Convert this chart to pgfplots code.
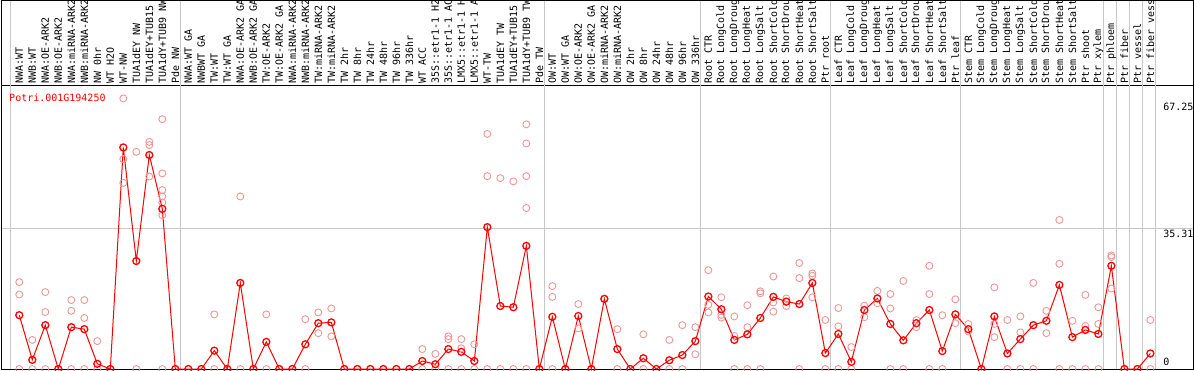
\documentclass[border=0pt]{standalone}
\usepackage{fontspec}
\setmonofont{DejaVu Sans Mono}
\usepackage{pgfplots}
\pgfplotsset{compat=1.18}
\definecolor{mainred}{RGB}{255,0,0}
\definecolor{reprep}{RGB}{238,150,150}
\definecolor{sepgray}{RGB}{200,200,200}

\pgfplotstableread{
x y
0 21.8
0 18.7
0 0
1 7.3
1 0
2 19.3
2 14.3
2 0
4 17.3
4 14.6
4 0
5 17.3
5 12.8
5 0
6 7.0
6 0
8 67.9
8 52.7
8 46.7
9 54.5
9 0
10 57.0
10 56.2
10 48.3
11 62.7
11 49.1
11 44.9
11 43.3
11 41.8
11 38.6
11 0
15 13.7
15 0
17 43.3
17 0
19 13.7
19 0
22 12.5
22 0
23 14.2
23 9.0
24 15.2
24 8.2
31 5.0
31 0
32 3.8
32 0
33 8.2
33 7.5
33 0
34 7.5
34 5.2
34 0
35 6.2
35 0
36 59.0
36 48.4
36 0
37 47.9
37 0
38 47.1
38 0
39 61.4
39 56.6
39 48.4
39 40.4
39 0
41 20.8
41 18.1
41 0
43 16.3
43 10.2
45 17.6
46 10.0
46 0
48 8.7
48 0
50 7.3
50 0
51 11.0
51 0
52 10.5
52 3.7
53 24.8
53 16.1
53 14.2
54 18.0
54 13.6
54 12.9
55 13.2
55 8.3
55 0
56 16.0
56 10.5
56 0
57 19.5
57 19.0
57 0
58 23.2
58 16.7
58 14.4
59 17.7
59 15.8
60 26.6
60 22.8
60 0
61 24.0
61 23.4
61 18.0
62 12.3
62 0
63 15.3
63 10.7
63 0
64 5.5
64 0
65 15.9
65 13.0
66 19.6
66 16.5
67 18.8
67 15.2
67 0
68 22.1
68 0
69 12.3
69 10.5
70 25.9
70 18.8
70 0
71 13.5
71 0
72 17.5
72 11.5
73 11.3
73 9.4
75 20.5
75 11.3
75 8.0
76 12.3
76 0
77 13.2
77 9.2
77 0
78 21.6
78 0
79 14.6
79 9.0
80 37.4
80 26.4
80 0
81 12.1
81 0
82 18.6
82 10.8
82 0
83 15.5
83 11.3
83 0
84 28.5
84 28.1
84 20.2
87 12.3
87 0
}\reptable

\pgfplotstableread{
x y
0 13.5
1 2.3
2 11.0
3 0
4 10.5
5 10.0
6 1.3
7 0
8 55.6
9 27.1
10 53.7
11 40.2
12 0
13 0
14 0
15 4.6
16 0
17 21.6
18 0
19 6.8
20 0
21 0
22 6.2
23 11.5
24 11.7
25 0
26 0
27 0
28 0
29 0
30 0
31 2.0
32 1.2
33 5.0
34 4.3
35 2.0
36 35.6
37 15.8
38 15.5
39 30.9
40 0
41 13.1
42 0
43 13.3
44 0
45 17.6
46 5.0
47 0
48 2.7
49 0
50 2.2
51 3.5
52 7.0
53 18.2
54 15.0
55 7.3
56 8.7
57 12.8
58 18.1
59 16.9
60 16.3
61 21.6
62 4.0
63 8.8
64 1.8
65 14.8
66 17.7
67 11.3
68 7.2
69 11.5
70 14.8
71 4.5
72 13.7
73 10.0
74 0
75 13.2
76 3.9
77 7.5
78 11.0
79 12.1
80 21.1
81 8.0
82 9.8
83 8.8
84 25.9
85 0
86 0
87 3.9
}\meantable

\begin{document}
\begin{tikzpicture}
\begin{axis}[name=ax, scale only axis, width=1192pt, height=284pt,
  xmin=-1.408, xmax=90.28, ymin=0, ymax=71.27,
  xtick={0,...,87},
  xticklabels={{NWA:WT},{NWB:WT},{NWA:OE-ARK2},{NWB:OE-ARK2},{NWA:miRNA-ARK2},{NWB:miRNA-ARK2},{NW 0hr},{WT H2O},{WT-NW},{TUA1dEY NW},{TUA1dEY+TUB15 NW},{TUA1dY+TUB9 NW},{Pde NW},
  {NWA:WT GA},{NWBWT GA},{TW:WT},{TW:WT GA},{NWA:OE-ARK2 GA},{NWB:OE-ARK2 GA},{TW:OE-ARK2},{TW:OE-ARK2 GA},{NWA:miRNA-ARK2},{NWB:miRNA-ARK2},{TW:miRNA-ARK2},{TW:miRNA-ARK2},{TW 2hr},{TW 8hr},{TW 24hr},{TW 48hr},{TW 96hr},{TW 336hr},{WT ACC},{35S::etr1-1 H2O},{35S::etr1-1 ACC},{LMX5::etr1-1 H2O},{LMX5::etr1-1 ACC},{WT-TW},{TUA1dEY TW},{TUA1dEY+TUB15 TW},{TUA1dY+TUB9 TW},{Pde TW},
  {OW:WT},{OW:WT GA},{OW:OE-ARK2},{OW:OE-ARK2 GA},{OW:miRNA-ARK2},{OW:miRNA-ARK2},{OW 2hr},{OW 8hr},{OW 24hr},{OW 48hr},{OW 96hr},{OW 336hr},
  {Root CTR},{Root LongCold},{Root LongDrought},{Root LongHeat},{Root LongSalt},{Root ShortCold},{Root ShortDrought},{Root ShortHeat},{Root ShortSalt},{Ptr root},
  {Leaf CTR},{Leaf LongCold},{Leaf LongDrought},{Leaf LongHeat},{Leaf LongSalt},{Leaf ShortCold},{Leaf ShortDrought},{Leaf ShortHeat},{Leaf ShortSalt},{Ptr leaf},
  {Stem CTR},{Stem LongCold},{Stem LongDrought},{Stem LongHeat},{Stem LongSalt},{Stem ShortCold},{Stem ShortDrought},{Stem ShortHeat},{Stem ShortSalt},{Ptr shoot},{Ptr xylem},{Ptr phloem},{Ptr fiber},{Ptr vessel},{Ptr fiber vessel}},
  xticklabel pos=upper,
  xticklabel style={rotate=90, anchor=west, font=\fontsize{10}{10}\selectfont\ttfamily, inner sep=1.5pt},
  major tick length=0pt,
  ytick={35.31}, yticklabels={}, ymajorgrids,
  grid style={sepgray, line width=0.8pt},
  axis line style={black, line width=0.8pt},
  clip=false,
]
% group separators
\draw[sepgray, line width=0.8pt] (axis cs:-0.7,0) -- (axis cs:-0.7,92.5);
\draw[sepgray, line width=0.8pt] (axis cs:12.38,0) -- (axis cs:12.38,92.5);
\draw[sepgray, line width=0.8pt] (axis cs:40.38,0) -- (axis cs:40.38,92.5);
\draw[sepgray, line width=0.8pt] (axis cs:52.38,0) -- (axis cs:52.38,92.5);
\draw[sepgray, line width=0.8pt] (axis cs:62.38,0) -- (axis cs:62.38,92.5);
\draw[sepgray, line width=0.8pt] (axis cs:72.38,0) -- (axis cs:72.38,92.5);
\draw[sepgray, line width=0.8pt] (axis cs:83.38,0) -- (axis cs:83.38,92.5);
\draw[sepgray, line width=0.8pt] (axis cs:84.38,0) -- (axis cs:84.38,92.5);
\draw[sepgray, line width=0.8pt] (axis cs:85.38,0) -- (axis cs:85.38,92.5);
\draw[sepgray, line width=0.8pt] (axis cs:86.38,0) -- (axis cs:86.38,92.5);
\draw[sepgray, line width=0.8pt] (axis cs:87.38,0) -- (axis cs:87.38,92.5);
% header frame
\draw[black, line width=0.8pt] (axis cs:-1.408,71.27) -- (axis cs:-1.408,92.47) -- (axis cs:90.28,92.47) -- (axis cs:90.28,71.27);

\addplot[only marks, mark=o, mark size=3.5pt, color=reprep, line width=0.9pt] table[x=x,y=y] {\reptable};
\addplot[mainred, line width=1pt, mark=o, mark size=3.5pt, mark options={line width=1.3pt, solid}] table[x=x,y=y] {\meantable};

\node[anchor=north west, inner sep=0pt, text=mainred, font=\fontsize{10}{10}\selectfont\ttfamily] at (axis cs:-0.79,69.2) {Potri.001G194250};
\node[anchor=north west, inner sep=0pt, font=\fontsize{10}{10}\selectfont\ttfamily, yshift=-1.5pt] at (axis cs:87.98,67.25) {67.25};
\node[anchor=north west, inner sep=0pt, font=\fontsize{10}{10}\selectfont\ttfamily, yshift=-1.5pt] at (axis cs:87.98,35.31) {35.31};
\node[anchor=south west, inner sep=0pt, font=\fontsize{10}{10}\selectfont\ttfamily, yshift=3pt] at (axis cs:87.98,0) {0};
\end{axis}
\pgfresetboundingbox
\path[use as bounding box] ([xshift=-1pt,yshift=-1pt]ax.south west) rectangle ([xshift=1pt,yshift=85pt]ax.north east);
\end{tikzpicture}
\end{document}
